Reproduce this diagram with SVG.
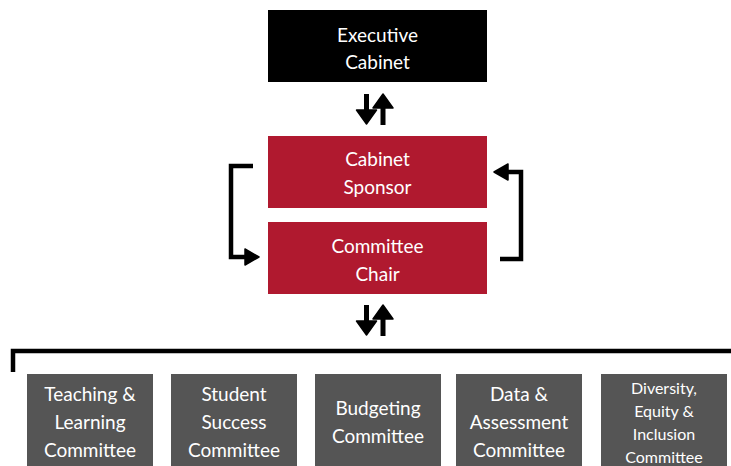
<svg xmlns="http://www.w3.org/2000/svg" width="731" height="466" viewBox="0 0 731 466">
  <style>
    .lbl { font-family: Lato, "Open Sans", "DejaVu Sans", sans-serif; fill: #ffffff; text-anchor: middle; }
    .big { font-size: 19px; }
    .mid { font-size: 19px; }
    .sm { font-size: 16px; }
    .exec { fill: #000000; }
    .red { fill: #B0192F; }
    .gray { fill: #555555; }
    .line { fill: none; stroke: #000000; stroke-width: 4.5; stroke-linejoin: miter; }
    .head { fill: #000000; stroke: #000000; stroke-width: 1.5; stroke-linejoin: round; }
  </style>
  <defs>
    <g id="updown">
      <!-- down arrow -->
      <rect x="-11" y="0" width="5" height="20" fill="#000"/>
      <path class="head" d="M-18.5,16 L1.5,16 L-8.5,30 z"/>
      <!-- up arrow -->
      <rect x="5.5" y="10" width="5" height="21" fill="#000"/>
      <path class="head" d="M-2,14 L18,14 L8,0 z"/>
    </g>
  </defs>

  <g id="executive-cabinet">
    <rect class="exec" x="268" y="10" width="219" height="72"/>
    <text class="lbl big" x="377.5" y="42">Executive</text>
    <text class="lbl big" x="377.5" y="69">Cabinet</text>
  </g>

  <g id="cabinet-sponsor">
    <rect class="red" x="268" y="136" width="219" height="72"/>
    <text class="lbl mid" x="377.5" y="166">Cabinet</text>
    <text class="lbl mid" x="377.5" y="194">Sponsor</text>
  </g>

  <g id="committee-chair">
    <rect class="red" x="268" y="222" width="219" height="72"/>
    <text class="lbl mid" x="377.5" y="253">Committee</text>
    <text class="lbl mid" x="377.5" y="281">Chair</text>
  </g>

  <g id="teaching-learning">
    <rect class="gray" x="27" y="374" width="126" height="95"/>
    <text class="lbl mid" x="90" y="401">Teaching &amp;</text>
    <text class="lbl mid" x="90" y="429">Learning</text>
    <text class="lbl mid" x="90" y="457">Committee</text>
  </g>

  <g id="student-success">
    <rect class="gray" x="171" y="374" width="126" height="95"/>
    <text class="lbl mid" x="234" y="401">Student</text>
    <text class="lbl mid" x="234" y="429">Success</text>
    <text class="lbl mid" x="234" y="457">Committee</text>
  </g>

  <g id="budgeting">
    <rect class="gray" x="315" y="374" width="126" height="95"/>
    <text class="lbl mid" x="378" y="415">Budgeting</text>
    <text class="lbl mid" x="378" y="443">Committee</text>
  </g>

  <g id="data-assessment">
    <rect class="gray" x="456" y="374" width="126" height="95"/>
    <text class="lbl mid" x="519" y="401">Data &amp;</text>
    <text class="lbl mid" x="519" y="429">Assessment</text>
    <text class="lbl mid" x="519" y="457">Committee</text>
  </g>

  <g id="diversity-equity-inclusion">
    <rect class="gray" x="601" y="374" width="126" height="95"/>
    <text class="lbl sm" x="664" y="394">Diversity,</text>
    <text class="lbl sm" x="664" y="417">Equity &amp;</text>
    <text class="lbl sm" x="664" y="440">Inclusion</text>
    <text class="lbl sm" x="664" y="463">Committee</text>
  </g>

  <g id="connectors">
    <use href="#updown" x="375" y="94"/>
    <use href="#updown" x="375" y="305"/>
    <!-- sponsor to chair -->
    <path class="line" d="M253,166 L231,166 L231,257 L246,257"/>
    <path class="head" d="M245,249 L259,257 L245,265 z"/>
    <!-- chair back to sponsor -->
    <path class="line" d="M500,259 L521,259 L521,172 L507,172"/>
    <path class="head" d="M508,164 L494,172 L508,180 z"/>
    <!-- committee bracket -->
    <path class="line" d="M13,372 L13,351 L731,351"/>
  </g>
</svg>
